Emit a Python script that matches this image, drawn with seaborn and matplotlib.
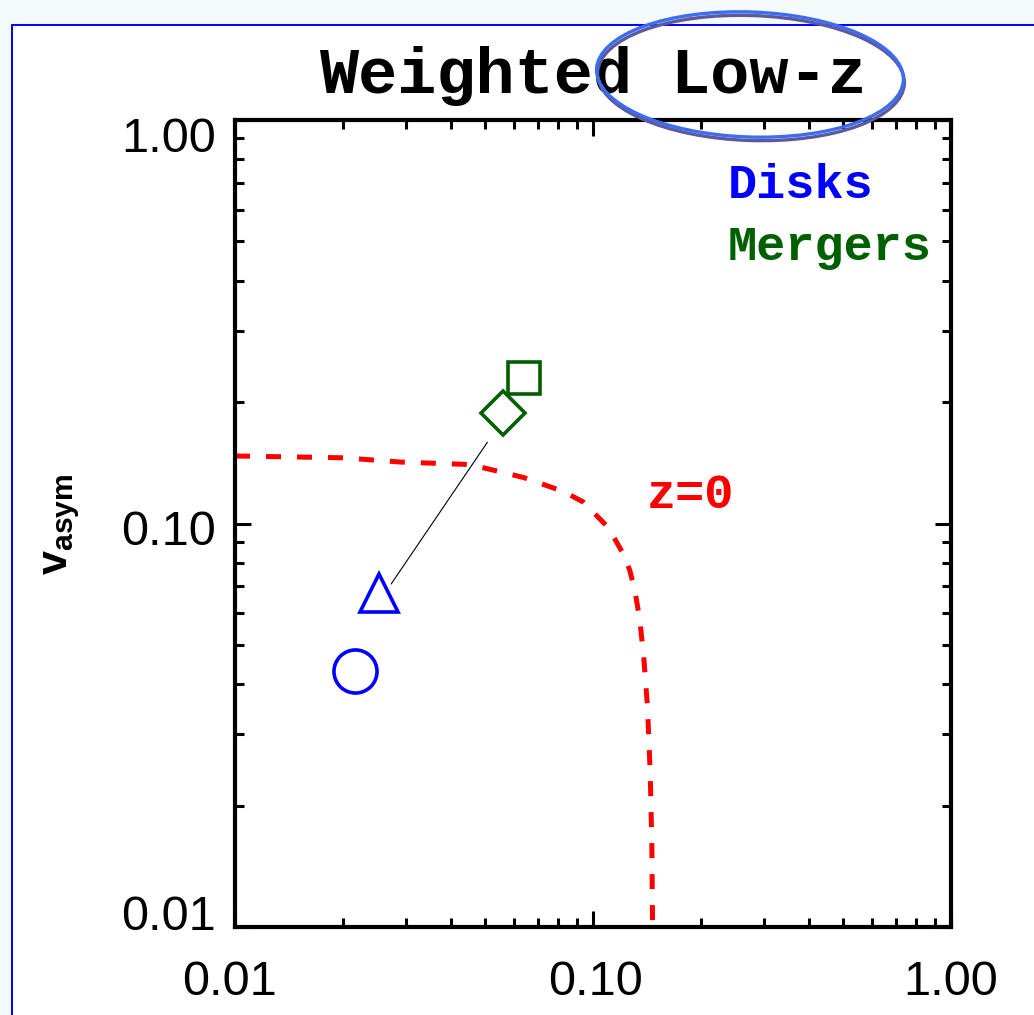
import numpy as np
import pandas as pd
import seaborn as sns
import matplotlib
matplotlib.use("Agg")
import matplotlib.pyplot as plt
import matplotlib.transforms as mtransforms
from matplotlib.patches import Rectangle, Ellipse
from matplotlib.ticker import FixedLocator, FixedFormatter, LogLocator, NullFormatter

# ---------------- data ----------------
tick_values = [0.01, 0.10, 1.00]
tick_labels = ["0.01", "0.10", "1.00"]

# z=0 reference curve
curve_x = [0.0100, 0.0200, 0.0290, 0.0454, 0.0640, 0.0828, 0.0940, 0.1030,
           0.1100, 0.1155, 0.1215, 0.1266, 0.1310, 0.1350, 0.1385, 0.1420,
           0.1445, 0.1460, 0.1467]
curve_y = [0.1470, 0.1455, 0.1420, 0.1400, 0.1300, 0.1200, 0.1130, 0.1040,
           0.0980, 0.0910, 0.0840, 0.0767, 0.0680, 0.0580, 0.0470, 0.0350,
           0.0240, 0.0160, 0.0100]

# individual points
point_names = ["disk_circle", "disk_triangle", "merger_diamond", "merger_square"]
point_x = [0.0217, 0.0252, 0.0562, 0.0641]
point_y = [0.0432, 0.0672, 0.1880, 0.2294]
point_marker = ["o", "^", "D", "s"]
point_color = ["#0000ff", "#0000ff", "#006000", "#006000"]
point_size = [31, 27, 22, 22.5]

# connecting segment (triangle -> diamond)
link_x = [0.0273, 0.0507]
link_y = [0.0708, 0.1590]

title_text = "Weighted Low-z"
legend_labels = ["Disks", "Mergers"]
legend_colors = ["#0000ff", "#006000"]
curve_label = "z=0"

# ---------------- figure ----------------
sns.set_theme(style="ticks")
plt.rcParams["font.family"] = ["Liberation Sans", "DejaVu Sans"]
plt.rcParams["mathtext.fontset"] = "custom"
plt.rcParams["mathtext.bf"] = "Liberation Sans:bold"
plt.rcParams["mathtext.rm"] = "Liberation Sans"

W, H, DPI = 1034, 1015, 100
fig = plt.figure(figsize=(W / DPI, H / DPI), dpi=DPI, facecolor="#f4f9fc")

# blue frame of the slide
frame = Rectangle((12 / W, -0.1), 1.2, (H - 25) / H + 0.1, transform=fig.transFigure,
                  facecolor="white", edgecolor="#0000ff", linewidth=1.4, zorder=-10)
fig.patches.append(frame)

ax = fig.add_axes([235 / W, (H - 927) / H, (951 - 235) / W, (927 - 120) / H])
ax.set_facecolor("white")

# z=0 dashed curve
df_curve = pd.DataFrame({"x": curve_x, "y": curve_y})
sns.lineplot(data=df_curve, x="x", y="y", sort=False, estimator=None, ax=ax,
             color="#ff0000", linewidth=3.6, linestyle=(0, (3, 3.2)), zorder=2)

# connecting line
df_link = pd.DataFrame({"x": link_x, "y": link_y})
sns.lineplot(data=df_link, x="x", y="y", sort=False, estimator=None, ax=ax,
             color="black", linewidth=0.8, zorder=3)

# hollow markers
for x, y, m, c, s in zip(point_x, point_y, point_marker, point_color, point_size):
    ax.plot([x], [y], linestyle="none", marker=m, markersize=s,
            markerfacecolor="none", markeredgecolor=c, markeredgewidth=2.6, zorder=4)

ax.set_xscale("log")
ax.set_yscale("log")
ax.set_xlim(0.01, 1.0)
ax.set_ylim(0.01, 1.0)
ax.set_xlabel("")
ax.set_ylabel("")

for axis in (ax.xaxis, ax.yaxis):
    axis.set_major_locator(FixedLocator(tick_values))
    axis.set_major_formatter(FixedFormatter(tick_labels))
    axis.set_minor_locator(LogLocator(base=10, subs=np.arange(2, 10)))
    axis.set_minor_formatter(NullFormatter())

for sp in ax.spines.values():
    sp.set_visible(True)
    sp.set_linewidth(3.0)
    sp.set_color("black")

ax.tick_params(which="both", direction="in", top=True, right=True,
               width=2.2, color="black")
ax.tick_params(which="major", length=11.5)
ax.tick_params(which="minor", length=6.5)
ax.tick_params(axis="y", which="major", pad=14, labelsize=35, labelcolor="black")
ax.tick_params(axis="x", which="major", pad=24, labelsize=35, labelcolor="black")

# IDL-like label offsets
y_off = [0.15, -0.04, -0.15]
for lbl, dy in zip(ax.get_yticklabels(), y_off):
    lbl.set_transform(lbl.get_transform() +
                      mtransforms.ScaledTranslation(0, dy, fig.dpi_scale_trans))
x_off = [-0.06, 0.03, 0.0]
for lbl, dx in zip(ax.get_xticklabels(), x_off):
    lbl.set_transform(lbl.get_transform() +
                      mtransforms.ScaledTranslation(dx, 0, fig.dpi_scale_trans))

# texts
mono = ["Liberation Mono", "DejaVu Sans Mono"]
fig.text(592.5 / W, 1 - 93 / H, title_text, ha="center", va="baseline",
         fontsize=47, fontweight="bold", family=mono, color="black")

ax.text((728 - 235) / 716, (927 - 198) / 807, legend_labels[0], transform=ax.transAxes,
        ha="left", va="baseline", fontsize=35, fontweight="bold", family=mono,
        color=legend_colors[0])
ax.text((728 - 235) / 716, (927 - 260) / 807, legend_labels[1], transform=ax.transAxes,
        ha="left", va="baseline", fontsize=35, fontweight="bold", family=mono,
        color=legend_colors[1])
ax.text((647 - 235) / 716, (927 - 508) / 807, curve_label, transform=ax.transAxes,
        ha="left", va="baseline", fontsize=35, fontweight="bold", family=mono,
        color="#ff0000")

fig.text(62 / W, 1 - 524 / H, r"$\mathbf{v}_{\mathbf{asym}}$", rotation=90,
         ha="center", va="center", fontsize=31, color="black")

# hand-drawn highlight ellipse around "Low-z"
e1 = Ellipse((7.51, (H - 78) / DPI), 3.07, 1.25, angle=-2, transform=fig.dpi_scale_trans,
             fill=False, edgecolor="#5a5a9e", linewidth=2.4, zorder=5)
e2 = Ellipse((7.50, (H - 74.5) / DPI), 3.07, 1.25, angle=-2, transform=fig.dpi_scale_trans,
             fill=False, edgecolor="#3d6cf2", linewidth=2.4, zorder=6)
fig.patches.append(e1)
fig.patches.append(e2)

fig.savefig("out.png", dpi=DPI, facecolor=fig.get_facecolor())
